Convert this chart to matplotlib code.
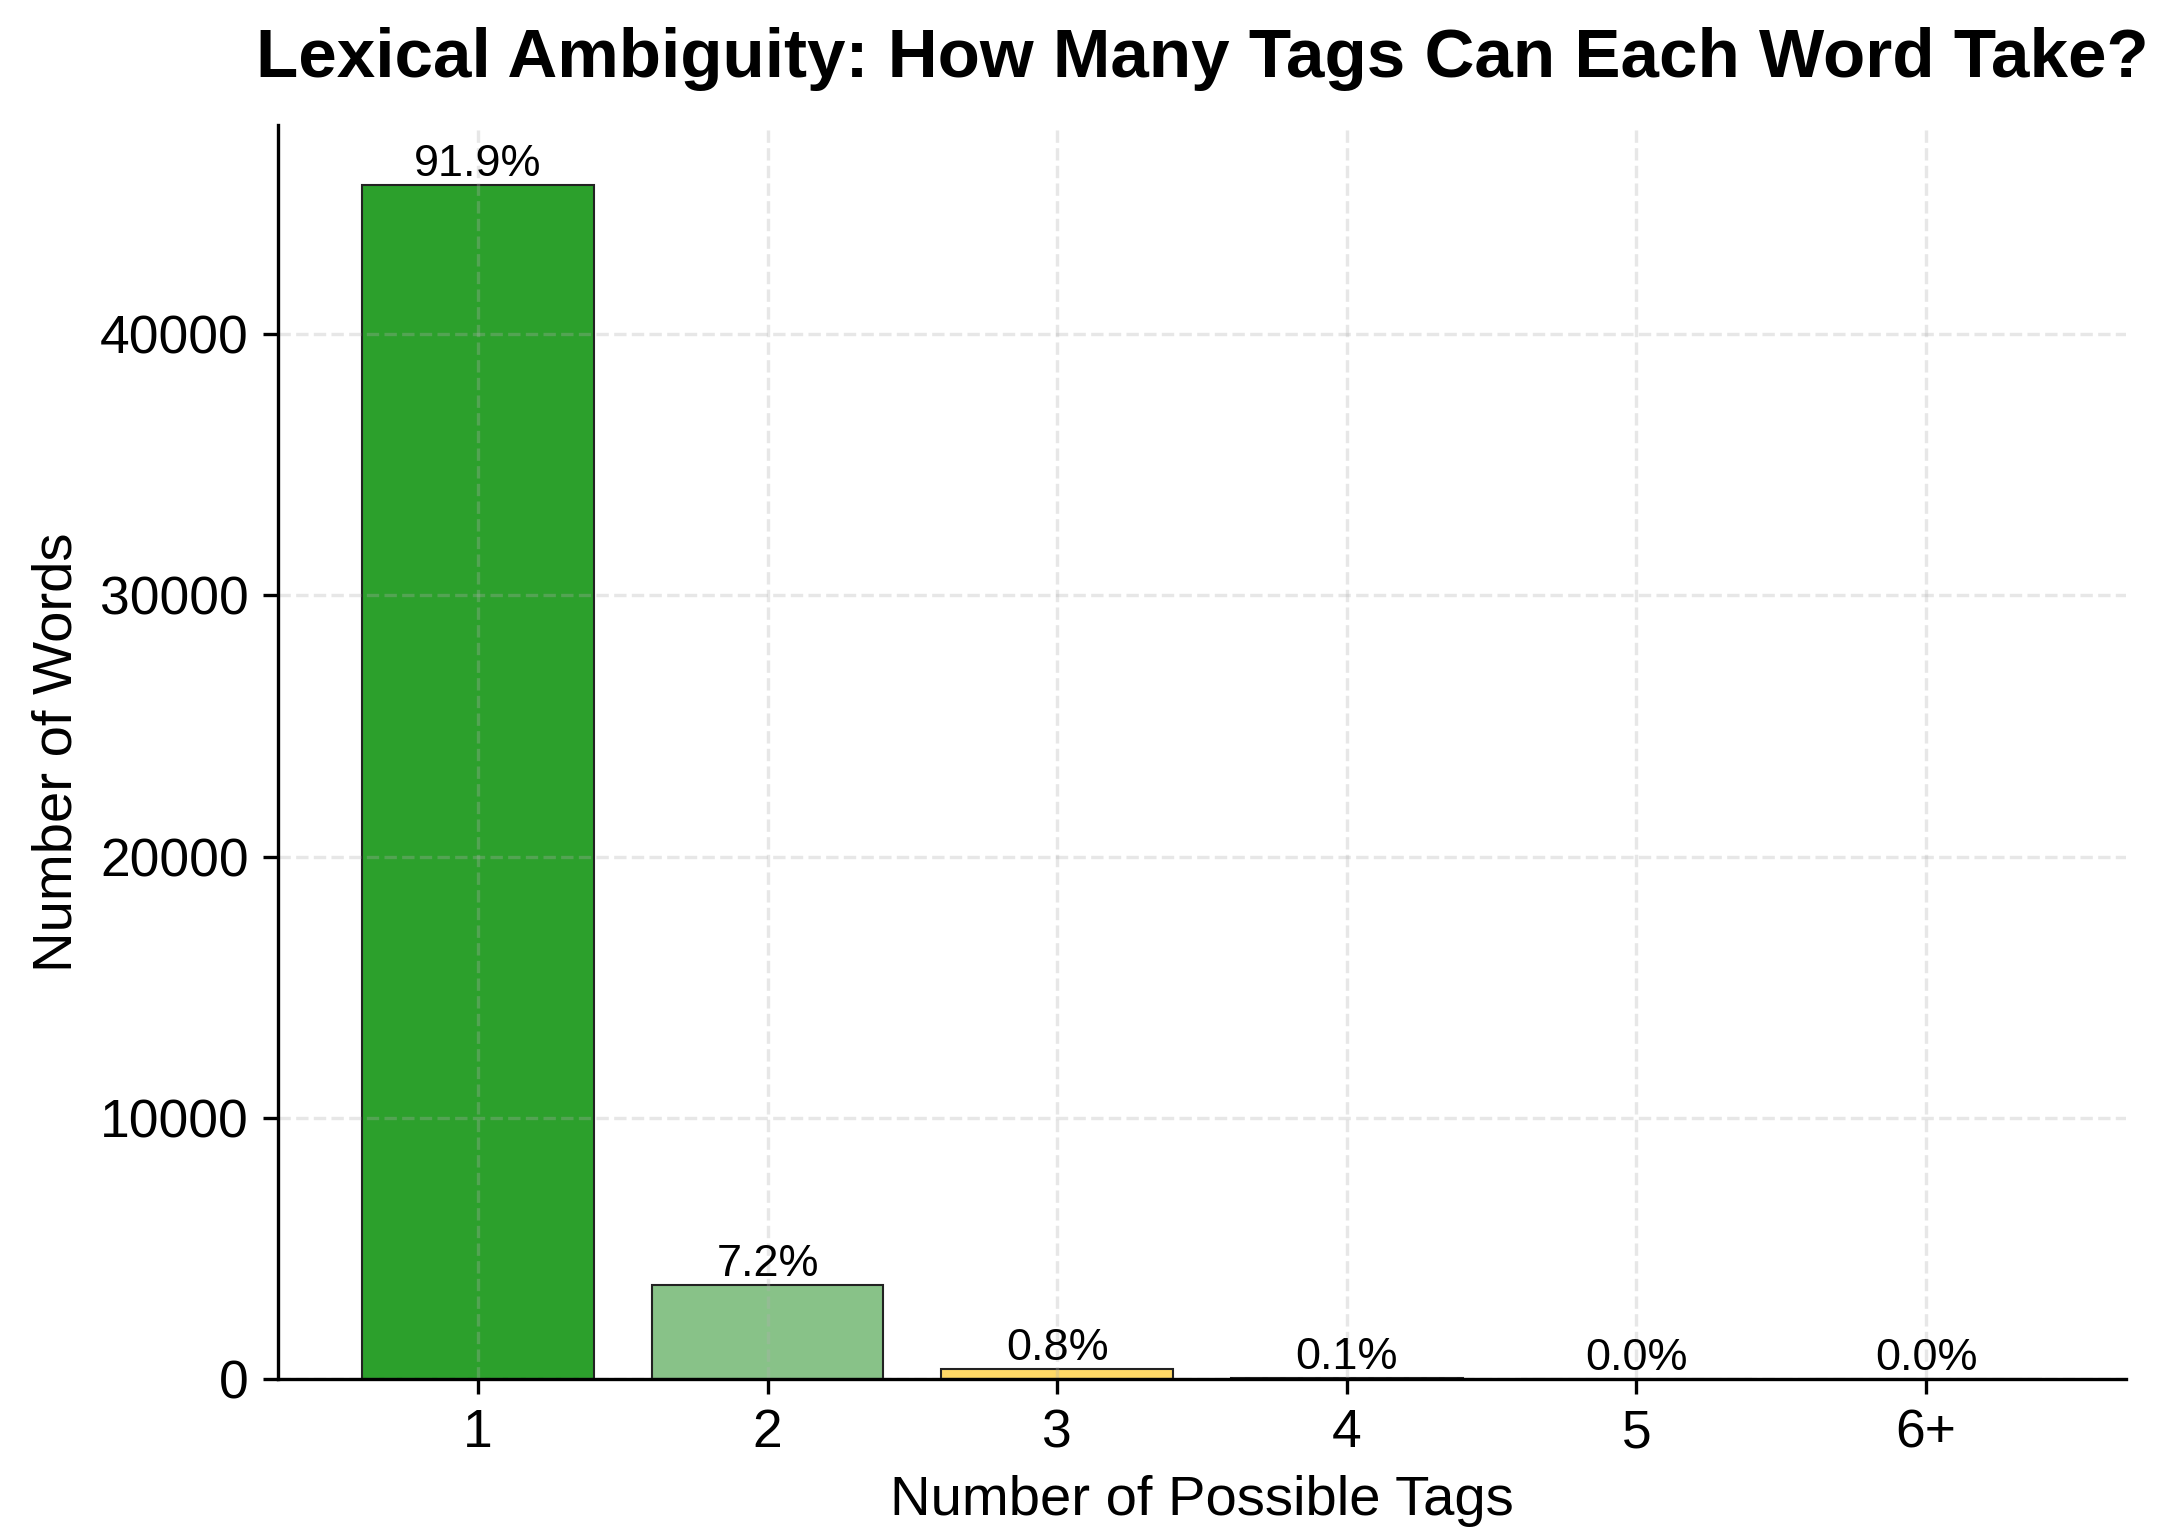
import matplotlib.pyplot as plt

plt.rcParams['font.family'] = ['Liberation Sans', 'DejaVu Sans']

tags = ['1', '2', '3', '4', '5', '6+']
counts = [45720, 3585, 395, 55, 12, 4]
colors = ['#2ca02c', '#88c288', '#ffd966', '#f4a460', '#e8735a', '#d62728']

total = sum(counts)
pcts = [c / total * 100 for c in counts]

fig = plt.figure(figsize=(2157 / 300, 1534 / 300), dpi=300)
ax = fig.add_axes([0.1289, 0.1010, 0.8567, 0.8175])

x = list(range(len(tags)))
bars = ax.bar(x, counts, color=colors, edgecolor='#222222', linewidth=0.5, width=0.8)

for b, p in zip(bars, pcts):
    ax.text(b.get_x() + b.get_width() / 2, b.get_height(), f'{p:.1f}%',
            ha='center', va='bottom', fontsize=10.8)

ax.set_xticks(x)
ax.set_xticklabels(tags)
ax.tick_params(labelsize=12.8)
ax.set_xlabel('Number of Possible Tags', fontsize=13.5)
ax.set_ylabel('Number of Words', fontsize=13.5)
ax.set_title('Lexical Ambiguity: How Many Tags Can Each Word Take?',
             fontsize=16.6, fontweight='bold', pad=11.5)
ax.grid(True, linestyle='--', alpha=0.3)
ax.spines['top'].set_visible(False)
ax.spines['right'].set_visible(False)

plt.savefig('out.png', dpi=300)
